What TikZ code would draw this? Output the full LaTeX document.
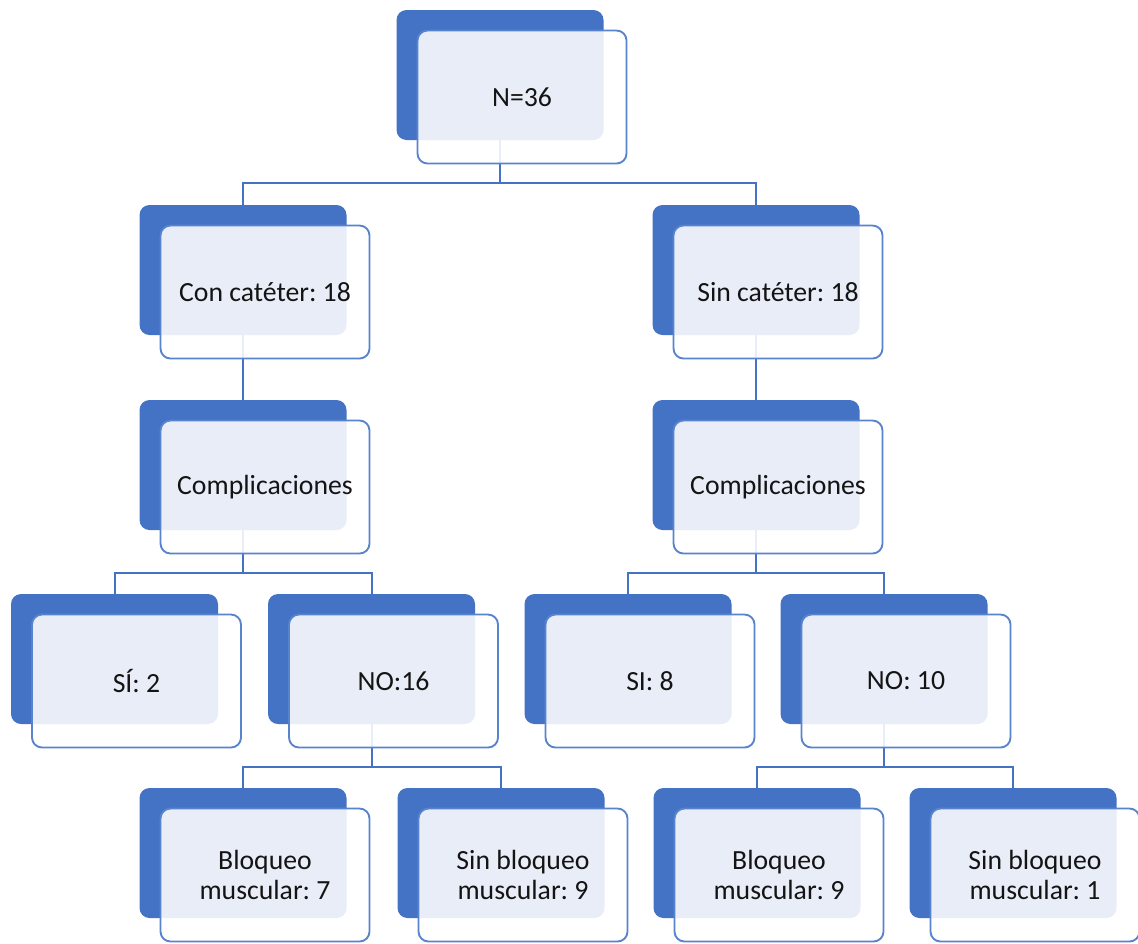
\documentclass[tikz,border=0pt]{standalone}
\usepackage{fontspec}
\setmainfont{Carlito}
\frenchspacing
\definecolor{bl}{RGB}{68,114,196}
\definecolor{fb}{RGB}{88,132,206}
\pgfdeclarelayer{background}
\pgfsetlayers{background,main}
\tikzset{
 backbox/.style={fill=bl, rounded corners=7.5pt, minimum width=155.25pt, minimum height=97.5pt, inner sep=0pt},
 frontbox/.style={fill=white, fill opacity=0.88, text opacity=1, draw=fb, line width=1.4pt, rounded corners=7.5pt, minimum width=156.75pt, minimum height=99.75pt, inner sep=2pt, align=center, font=\fontsize{20.8}{23}\selectfont, text=black!92},
 conn/.style={draw=bl, line width=1.5pt}
}
\newcommand\pairbox[4]{%
 \node[backbox] (#1-b) at (#2,#3) {};
 \node[frontbox] (#1) at ([shift={(22,22)}]#1-b.center) {#4};
}
\begin{document}
\begin{tikzpicture}[x=0.75pt,y=-0.75pt]
\useasboundingbox (0,0) rectangle (1138,943);
\pairbox{top}{500}{75}{N=36}
\pairbox{con}{243}{270}{Con catéter: 18}
\pairbox{sin}{756}{270}{Sin catéter: 18}
\pairbox{compa}{243}{465}{Complicaciones}
\pairbox{compb}{756}{465}{Complicaciones}
\pairbox{sia}{114.5}{659}{SÍ: 2}
\pairbox{noa}{371.5}{659}{NO:16}
\pairbox{sib}{628}{659}{SI: 8}
\pairbox{nob}{884}{659}{NO: 10}
\pairbox{ba}{243}{853}{Bloqueo\\muscular: 7}
\pairbox{sba}{501}{853}{Sin bloqueo\\muscular: 9}
\pairbox{bb}{757}{853}{Bloqueo\\muscular: 9}
\pairbox{sbb}{1013}{853}{Sin bloqueo\\muscular: 1}
\begin{pgfonlayer}{background}
\draw[conn] (top-b.south) -- ++(0,43) -| (con-b.north);
\draw[conn] (top-b.south) -- ++(0,43) -| (sin-b.north);
\draw[conn] (con-b.south) -- (compa-b.north);
\draw[conn] (sin-b.south) -- (compb-b.north);
\draw[conn] (compa-b.south) -- ++(0,43) -| (sia-b.north);
\draw[conn] (compa-b.south) -- ++(0,43) -| (noa-b.north);
\draw[conn] (compb-b.south) -- ++(0,43) -| (sib-b.north);
\draw[conn] (compb-b.south) -- ++(0,43) -| (nob-b.north);
\draw[conn] (noa-b.south) -- ++(0,43) -| (ba-b.north);
\draw[conn] (noa-b.south) -- ++(0,43) -| (sba-b.north);
\draw[conn] (nob-b.south) -- ++(0,43) -| (bb-b.north);
\draw[conn] (nob-b.south) -- ++(0,43) -| (sbb-b.north);
\end{pgfonlayer}
\end{tikzpicture}
\end{document}
